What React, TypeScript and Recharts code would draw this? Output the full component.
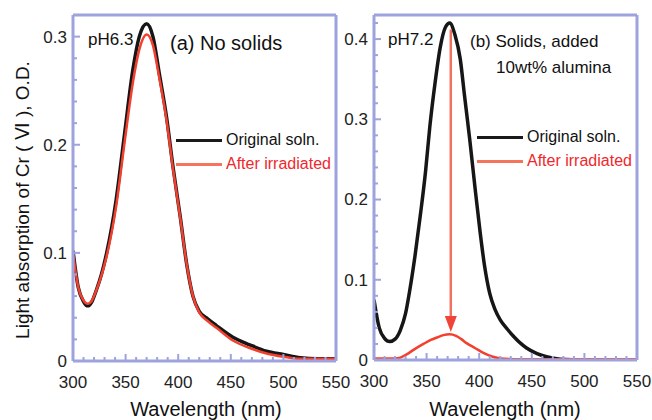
import { LineChart, Line, XAxis, YAxis, ReferenceLine, ReferenceDot } from "recharts";

// panel (a) – no solids, pH 6.3
const wavelengthsA = [300, 305, 310, 314, 318, 322, 327, 332, 341, 349, 357, 363, 370, 376, 382, 389, 395, 402, 408, 414, 420, 428, 436, 452, 468, 484, 500, 516, 533, 550];
const originalA = [0.102, 0.068, 0.055, 0.051, 0.055, 0.065, 0.08, 0.1, 0.149, 0.21, 0.27, 0.3, 0.312, 0.3, 0.266, 0.225, 0.18, 0.133, 0.09, 0.06, 0.046, 0.039, 0.033, 0.022, 0.015, 0.009, 0.006, 0.003, 0.002, 0.002];
const irradiatedA = [0.1, 0.068, 0.056, 0.053, 0.056, 0.065, 0.079, 0.097, 0.143, 0.202, 0.258, 0.288, 0.302, 0.292, 0.262, 0.222, 0.178, 0.132, 0.09, 0.06, 0.045, 0.037, 0.031, 0.019, 0.012, 0.007, 0.004, 0.002, 0.002, 0.002];

// panel (b) – solids, 10wt% alumina, pH 7.2
const wavelengthsB = [300, 305, 310, 315, 320, 325, 330, 334, 339, 344, 349, 353, 358, 363, 368, 372, 377, 382, 386, 391, 396, 401, 405, 410, 415, 420, 427, 433, 440, 445, 455, 464, 477, 500, 525, 550];
const originalB = [0.075, 0.04, 0.027, 0.023, 0.026, 0.037, 0.058, 0.087, 0.13, 0.18, 0.235, 0.29, 0.345, 0.39, 0.415, 0.42, 0.405, 0.375, 0.33, 0.275, 0.215, 0.158, 0.118, 0.083, 0.063, 0.05, 0.038, 0.029, 0.02, 0.015, 0.008, 0.004, 0.001, 0, 0, 0];
const irradWavelengthsB = [300, 310, 320, 325, 331, 338, 347, 354, 360, 366, 372, 378, 383, 388, 396, 404, 413, 420, 440, 500, 550];
const irradiatedB = [0.002, 0.002, 0.002, 0.003, 0.007, 0.013, 0.02, 0.025, 0.028, 0.031, 0.032, 0.03, 0.026, 0.021, 0.015, 0.009, 0.004, 0.002, 0.001, 0.001, 0.001];

const xTicks = [300, 310, 320, 330, 340, 350, 360, 370, 380, 390, 400, 410, 420, 430, 440, 450, 460, 470, 480, 490, 500, 510, 520, 530, 540, 550];
const yTicksA = [0, 0.02, 0.04, 0.06, 0.08, 0.1, 0.12, 0.14, 0.16, 0.18, 0.2, 0.22, 0.24, 0.26, 0.28, 0.3];
const yTicksB = [0, 0.02, 0.04, 0.06, 0.08, 0.1, 0.12, 0.14, 0.16, 0.18, 0.2, 0.22, 0.24, 0.26, 0.28, 0.3, 0.32, 0.34, 0.36, 0.38, 0.4, 0.42];

const arrowWavelength = 373;
const arrowFrom = 0.412;
const arrowTo = 0.035;

const toRows = (xs: number[], ys: number[]) => xs.map((w, i) => ({ w, v: ys[i] }));

const FRAME = "#9ea3de";
const FONT = "Liberation Sans, Arial, sans-serif";

const isMajorX = (v: number) => v % 50 === 0;
const isMajorY = (v: number) => Math.abs(v * 10 - Math.round(v * 10)) < 1e-6;

const BottomTick = (p: any) => {
  const v = p.payload.value;
  const major = isMajorX(v);
  return (
    <g>
      <line x1={p.x} y1={p.y} x2={p.x} y2={p.y - (major ? 7 : 4)} stroke={FRAME} strokeWidth={2} />
      {major && (
        <text x={p.x} y={p.y + 27} textAnchor="middle" fontSize={17} fontFamily={FONT} fill="#222">
          {v}
        </text>
      )}
    </g>
  );
};

const TopTick = (p: any) => {
  const major = isMajorX(p.payload.value);
  return <line x1={p.x} y1={p.y} x2={p.x} y2={p.y + (major ? 7 : 4)} stroke={FRAME} strokeWidth={2} />;
};

const LeftTick = (p: any) => {
  const v = p.payload.value;
  const major = isMajorY(v);
  return (
    <g>
      <line x1={p.x} y1={p.y} x2={p.x + (major ? 7 : 4)} y2={p.y} stroke={FRAME} strokeWidth={2} />
      {major && (
        <text x={p.x - 6} y={p.y} dy="0.35em" textAnchor="end" fontSize={17} fontFamily={FONT} fill="#222">
          {v === 0 ? "0" : v.toFixed(1)}
        </text>
      )}
    </g>
  );
};

const RightTick = (p: any) => {
  const major = isMajorY(p.payload.value);
  return <line x1={p.x} y1={p.y} x2={p.x - (major ? 7 : 4)} y2={p.y} stroke={FRAME} strokeWidth={2} />;
};

const LegendBox = ({ left, top }: { left: number; top: number }) => (
  <div style={{ position: "absolute", left, top, fontFamily: FONT, fontSize: 16, lineHeight: "24px" }}>
    <div style={{ display: "flex", alignItems: "center", color: "#111" }}>
      <span style={{ width: 46, height: 3, background: "#1a1a1a", marginRight: 4 }} />
      Original soln.
    </div>
    <div style={{ display: "flex", alignItems: "center", color: "#f0282d" }}>
      <span style={{ width: 46, height: 3, background: "#f4745c", marginRight: 4 }} />
      After irradiated
    </div>
  </div>
);

const ArrowHead = (p: any) => (
  <path d={`M${p.cx},${p.cy} L${p.cx - 6},${p.cy - 16} L${p.cx + 6},${p.cy - 16} Z`} fill="#f0443a" />
);

const frameAxes = (domainY: number[], yTicks: number[]) => [
  <XAxis key="xb" xAxisId="b" dataKey="w" type="number" domain={[300, 550]} ticks={xTicks} interval={0}
    height={1} tickSize={0} tickMargin={0} tickLine={false} tick={BottomTick}
    axisLine={{ stroke: FRAME, strokeWidth: 3 }} allowDataOverflow />,
  <XAxis key="xt" xAxisId="t" orientation="top" dataKey="w" type="number" domain={[300, 550]} ticks={xTicks} interval={0}
    height={1} tickSize={0} tickMargin={0} tickLine={false} tick={TopTick}
    axisLine={{ stroke: FRAME, strokeWidth: 3 }} />,
  <YAxis key="yl" yAxisId="l" type="number" domain={domainY} ticks={yTicks} interval={0}
    width={1} tickSize={0} tickMargin={0} tickLine={false} tick={LeftTick}
    axisLine={{ stroke: FRAME, strokeWidth: 3 }} allowDataOverflow />,
  <YAxis key="yr" yAxisId="r" orientation="right" type="number" domain={domainY} ticks={yTicks} interval={0}
    width={1} tickSize={0} tickMargin={0} tickLine={false} tick={RightTick}
    axisLine={{ stroke: FRAME, strokeWidth: 3 }} />,
];

const text = (x: number, y: number, s: string, size: number, center = false) => (
  <div style={{ position: "absolute", left: x, top: y, fontSize: size, fontFamily: FONT, color: "#111", whiteSpace: "nowrap", lineHeight: 1, transform: center ? "translateX(-50%)" : undefined }}>
    {s}
  </div>
);

export default function App() {
  return (
    <div style={{ position: "absolute", left: 0, top: 0, width: 652, height: 420, background: "#fff", overflow: "hidden" }}>
      <div style={{ position: "absolute", left: 0, top: 0 }}>
        <LineChart width={652} height={420} margin={{ top: 14, left: 72, right: 315, bottom: 58 }}>
          {frameAxes([0, 0.32], yTicksA)}
          <Line xAxisId="b" yAxisId="l" data={toRows(wavelengthsA, originalA)} dataKey="v" type="monotone"
            stroke="#161616" strokeWidth={3.5} dot={false} isAnimationActive={false} />
          <Line xAxisId="b" yAxisId="l" data={toRows(wavelengthsA, irradiatedA)} dataKey="v" type="monotone"
            stroke="#f2402f" strokeWidth={2.5} dot={false} isAnimationActive={false} />
        </LineChart>
      </div>
      <div style={{ position: "absolute", left: 0, top: 0 }}>
        <LineChart width={652} height={420} margin={{ top: 14, left: 373, right: 14, bottom: 59 }}>
          {frameAxes([0, 0.43], yTicksB)}
          <Line xAxisId="b" yAxisId="l" data={toRows(wavelengthsB, originalB)} dataKey="v" type="monotone"
            stroke="#161616" strokeWidth={3.5} dot={false} isAnimationActive={false} />
          <Line xAxisId="b" yAxisId="l" data={toRows(irradWavelengthsB, irradiatedB)} dataKey="v" type="monotone"
            stroke="#f2402f" strokeWidth={2.5} dot={false} isAnimationActive={false} />
          <ReferenceLine xAxisId="b" yAxisId="l" segment={[{ x: arrowWavelength, y: arrowFrom }, { x: arrowWavelength, y: arrowTo + 0.01 }]}
            stroke="#f2705e" strokeWidth={2.5} />
          <ReferenceDot xAxisId="b" yAxisId="l" x={arrowWavelength} y={arrowTo} shape={ArrowHead} />
        </LineChart>
      </div>
      <LegendBox left={176} top={128} />
      <LegendBox left={477} top={125} />
      {text(88, 31, "pH6.3", 17)}
      {text(170, 33, "(a) No solids", 20)}
      {text(388, 31, "pH7.2", 17)}
      {text(470, 33, "(b) Solids, added", 17)}
      {text(496, 59, "10wt% alumina", 17)}
      {text(206, 399, "Wavelength (nm)", 20, true)}
      {text(505, 399, "Wavelength (nm)", 20, true)}
      <div style={{ position: "absolute", left: 22, top: 200, transform: "translate(-50%, -50%) rotate(-90deg)", fontSize: 19, fontFamily: FONT, color: "#111", whiteSpace: "nowrap" }}>
        Light absorption of Cr ( Ⅵ ), O.D.
      </div>
    </div>
  );
}
